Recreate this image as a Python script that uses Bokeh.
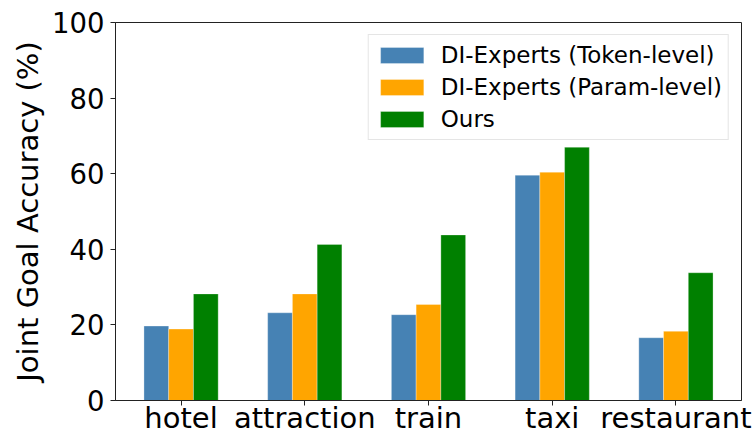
import numpy as np
from bokeh.plotting import figure
from bokeh.models import ColumnDataSource, Range1d, FixedTicker, Legend, LegendItem
from bokeh.embed import file_html
from bokeh.resources import INLINE

# Joint goal accuracy per domain
domains = ["hotel", "attraction", "train", "taxi", "restaurant"]
token_level = [19.7, 23.2, 22.7, 59.6, 16.6]
param_level = [18.9, 28.2, 25.4, 60.4, 18.3]
ours = [28.2, 41.3, 43.8, 67.0, 33.8]

series_names = ["DI-Experts (Token-level)", "DI-Experts (Param-level)", "Ours"]
series_colors = ["#4682B4", "#FFA500", "#008000"]
y_ticks = [0, 20, 40, 60, 80, 100]

FONT = "DejaVu Sans"
bar_w = 0.2
idx = np.arange(len(domains))

p = figure(width=752, height=437, output_backend="svg", toolbar_location=None,
           x_range=Range1d(-0.53, len(domains) - 1 + 0.53), y_range=Range1d(0, 100),
           min_border_left=115, min_border_right=11, min_border_top=22, min_border_bottom=37)

renderers = []
for k, (vals, color) in enumerate(zip([token_level, param_level, ours], series_colors)):
    src = ColumnDataSource(dict(x=idx + (k - 1) * bar_w, top=vals))
    r = p.vbar(x="x", top="top", bottom=0, width=bar_w, source=src,
               fill_color=color, line_color="white", line_width=0.6, line_alpha=0.5)
    renderers.append(r)

# axes
p.xaxis.ticker = FixedTicker(ticks=list(idx))
p.xaxis.major_label_overrides = {int(i): d for i, d in zip(idx, domains)}
p.yaxis.ticker = FixedTicker(ticks=y_ticks)
p.yaxis.axis_label = "Joint Goal Accuracy (%)"

for ax in (p.xaxis[0], p.yaxis[0]):
    ax.major_label_text_font = FONT
    ax.major_label_text_color = "black"
    ax.axis_line_color = "#222222"
    ax.major_tick_line_color = "#222222"
    ax.major_tick_in = 0
    ax.major_tick_out = 5
    ax.minor_tick_line_color = None

p.xaxis.major_label_text_font_size = "29px"
p.yaxis.major_label_text_font_size = "27.5px"
p.xaxis.major_label_standoff = -5
p.yaxis.major_label_standoff = 6
p.yaxis.axis_label_text_font = FONT
p.yaxis.axis_label_text_font_size = "29px"
p.yaxis.axis_label_text_font_style = "normal"
p.yaxis.axis_label_text_color = "black"
p.yaxis.axis_label_standoff = 4

p.xgrid.grid_line_color = None
p.ygrid.grid_line_color = None
p.outline_line_color = "#222222"
p.outline_line_width = 1
p.background_fill_color = "white"
p.border_fill_color = "white"

legend = Legend(items=[LegendItem(label=n, renderers=[r]) for n, r in zip(series_names, renderers)],
                location="top_right", margin=12)
legend.label_text_font = FONT
legend.label_text_font_size = "23px"
legend.label_text_color = "black"
legend.glyph_width = 54
legend.glyph_height = 20
legend.label_height = 28
legend.label_standoff = 12
legend.spacing = 4
legend.padding = 6
legend.border_line_color = "#cccccc"
legend.border_line_width = 1
legend.background_fill_alpha = 0.85
p.add_layout(legend)

open("out.html", "w").write(file_html(p, INLINE))
